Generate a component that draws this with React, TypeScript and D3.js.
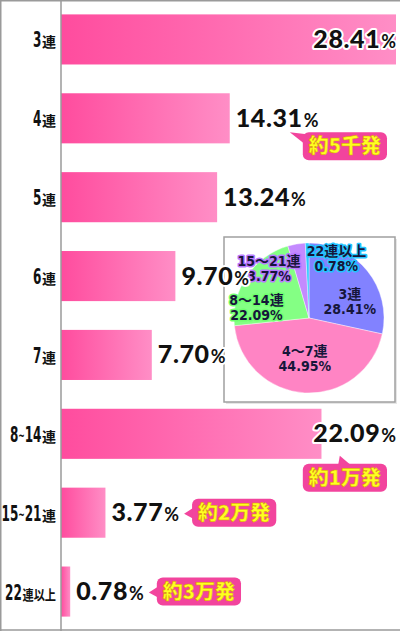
import React, { useEffect, useRef } from "react";
import * as d3 from "d3";

// ---- data ----
const categories = ["3連", "4連", "5連", "6連", "7連", "8~14連", "15~21連", "22連以上"];
const categoryMain = ["3", "4", "5", "6", "7", "8~14", "15~21", "22"];
const categorySuffix = ["連", "連", "連", "連", "連", "連", "連", "連以上"];
const percentages = [28.41, 14.31, 13.24, 9.7, 7.7, 22.09, 3.77, 0.78];
const percentLabels = ["28.41", "14.31", "13.24", "9.70", "7.70", "22.09", "3.77", "0.78"];

const badgeCategories = ["4連", "8~14連", "15~21連", "22連以上"];
const badgeTexts = ["約5千発", "約1万発", "約2万発", "約3万発"];

const pieNames = ["3連", "4〜7連", "8〜14連", "15〜21連", "22連以上"];
const pieValues = [28.41, 44.95, 22.09, 3.77, 0.78];
const pieValueLabels = ["28.41%", "44.95%", "22.09%", "3.77%", "0.78%"];

// ---- styles / layout ----
const W = 400;
const H = 631;
const pieColors = ["#8282ff", "#ff84c4", "#84ff84", "#c48aff", "#2ec8ff"];
const pieOutline = ["#8282ff", "#ff84c4", "#70ff70", "#b878ff", "#22c4ff"];
const pieLabelRadius = [46, 39, 50, 60, 65];
const pieLabelNudge: [number, number][] = [
  [5, 11],
  [-2, 0],
  [-11, 16],
  [-30, 8],
  [29, 4],
];

const NARROW = "'Liberation Sans Narrow','DejaVu Sans Condensed','Noto Sans CJK JP',sans-serif";
const CJK = "'Noto Sans CJK JP','Noto Sans CJK SC',sans-serif";
const GEO = "Lato,'DejaVu Sans',sans-serif";

export default function App() {
  const ref = useRef<SVGSVGElement>(null);

  useEffect(() => {
    const svg = d3.select(ref.current!);
    svg.selectAll("*").remove();

    const defs = svg.append("defs");
    const grad = defs
      .append("linearGradient")
      .attr("id", "barGrad")
      .attr("x1", 0)
      .attr("x2", 1)
      .attr("y1", 0)
      .attr("y2", 0);
    grad.append("stop").attr("offset", 0).attr("stop-color", "#ff4c9e");
    grad.append("stop").attr("offset", 1).attr("stop-color", "#ff8ec6");

    svg.append("rect").attr("width", W).attr("height", H).attr("fill", "#fff");

    const xs = d3.scaleLinear().domain([0, 28.41]).range([61, 396]);
    const ys = d3
      .scaleBand<string>()
      .domain(categories)
      .range([0, H])
      .paddingInner(0.365)
      .paddingOuter(0.1825);
    const bw = ys.bandwidth();

    // bars
    svg
      .append("g")
      .selectAll("rect")
      .data(categories)
      .join("rect")
      .attr("x", xs(0))
      .attr("y", (d) => ys(d)!)
      .attr("width", (_d, i) => xs(percentages[i]) - xs(0))
      .attr("height", bw)
      .attr("fill", "url(#barGrad)");

    // frame + axis
    const frame = svg.append("g").attr("stroke", "#9a9a9a").attr("fill", "none");
    frame.append("line").attr("x1", 0).attr("x2", W).attr("y1", 0.75).attr("y2", 0.75).attr("stroke-width", 1.5);
    frame.append("line").attr("x1", 0).attr("x2", W).attr("y1", H - 1).attr("y2", H - 1).attr("stroke-width", 1.5);
    frame.append("line").attr("x1", 0.75).attr("x2", 0.75).attr("y1", 0).attr("y2", H).attr("stroke-width", 1.5);
    frame.append("line").attr("x1", xs(0)).attr("x2", xs(0)).attr("y1", 0).attr("y2", H).attr("stroke-width", 1.5);

    // measure a digit of the narrow font to condense it to the reference width
    const probe = svg
      .append("text")
      .attr("font-family", NARROW)
      .attr("font-weight", 700)
      .attr("font-size", 22)
      .text("0");
    const digitW = (probe.node() as SVGTextElement).getComputedTextLength();
    probe.remove();
    const condense = Math.min(1, 8.4 / digitW);

    // category labels
    categories.forEach((cat, i) => {
      const cy = ys(cat)! + bw / 2;
      const suf = categorySuffix[i];
      const sTxt = svg
        .append("text")
        .attr("text-anchor", "end")
        .attr("font-family", CJK)
        .attr("font-weight", 700)
        .attr("font-size", 14)
        .attr("fill", "#111")
        .text(suf);
      const sw0 = (sTxt.node() as SVGTextElement).getComputedTextLength();
      const sScale = suf.length > 1 ? 0.8 : 1;
      sTxt.attr("transform", `translate(56,${cy + 8}) scale(${sScale},1)`);
      const sw = sw0 * sScale;
      const mTxt = svg
        .append("text")
        .attr("transform", `translate(${56 - sw - 0.5},${cy + 8}) scale(${condense},1)`)
        .attr("text-anchor", "end")
        .attr("font-family", NARROW)
        .attr("font-weight", 700)
        .attr("font-size", 22)
        .attr("fill", "#111");
      const parts = categoryMain[i].split("~");
      parts.forEach((p, j) => {
        if (j > 0) mTxt.append("tspan").attr("font-size", 14).attr("dy", -2).text("~");
        mTxt.append("tspan").attr("dy", j > 0 ? 2 : 0).text(p);
      });
    });

    // pie inset (under the value labels)
    const box = { x: 224, y: 237, w: 171, h: 165 };
    svg
      .append("rect")
      .attr("x", box.x + 2)
      .attr("y", box.y + 2)
      .attr("width", box.w)
      .attr("height", box.h)
      .attr("fill", "#e6e6e6");
    svg
      .append("rect")
      .attr("x", box.x)
      .attr("y", box.y)
      .attr("width", box.w)
      .attr("height", box.h)
      .attr("fill", "#fff")
      .attr("stroke", "#a0a0a0")
      .attr("stroke-width", 1.5);

    const pcx = 309;
    const pcy = 318;
    const R = 75;
    const pie = d3
      .pie<number>()
      .sort(null)
      .value((d) => d)
      .startAngle(0)
      .endAngle(Math.PI * 2);
    const arcs = pie(pieValues);
    const arc = d3.arc<d3.PieArcDatum<number>>().innerRadius(0).outerRadius(R);
    const pg = svg.append("g").attr("transform", `translate(${pcx},${pcy})`);
    pg.selectAll("path")
      .data(arcs)
      .join("path")
      .attr("d", arc)
      .attr("fill", (_d, i) => pieColors[i])
      .attr("stroke", "#fff")
      .attr("stroke-width", 0.4);

    arcs.forEach((a, i) => {
      const la = d3.arc<d3.PieArcDatum<number>>().innerRadius(pieLabelRadius[i]).outerRadius(pieLabelRadius[i]);
      const [cx0, cy0] = la.centroid(a);
      const cx = cx0 + pieLabelNudge[i][0];
      const cy = cy0 + pieLabelNudge[i][1];
      [pieNames[i], pieValueLabels[i]].forEach((s, j) => {
        pg.append("text")
          .attr("x", cx)
          .attr("y", cy - 1 + j * 15)
          .attr("text-anchor", "middle")
          .attr("font-family", NARROW)
          .attr("font-weight", 700)
          .attr("font-size", 14)
          .attr("fill", "#16163a")
          .attr("stroke", pieOutline[i])
          .attr("stroke-width", 3)
          .attr("stroke-linejoin", "round")
          .attr("paint-order", "stroke")
          .text(s);
      });
    });

    // value labels
    const labelInfo: { x: number; w: number }[] = [];
    categories.forEach((cat, i) => {
      const cy = ys(cat)! + bw / 2;
      const barEnd = xs(percentages[i]);
      const t = svg
        .append("text")
        .attr("y", cy + 8.5)
        .attr("fill", "#111")
        .attr("stroke", "#fff")
        .attr("stroke-width", 4)
        .attr("stroke-linejoin", "round")
        .attr("paint-order", "stroke")
        .attr("font-family", GEO);
      t.append("tspan")
        .attr("font-weight", 900)
        .attr("font-size", 25)
        .attr("letter-spacing", 0.6)
        .text(percentLabels[i]);
      t.append("tspan").attr("dx", 1).attr("font-weight", 700).attr("font-size", 18).text("%");
      const w = (t.node() as SVGTextElement).getComputedTextLength() + 1;
      let x = barEnd + 6;
      if (x + w > 396) x = 396 - w;
      t.attr("x", x);
      labelInfo.push({ x, w });
    });

    // badges
    badgeCategories.forEach((cat, k) => {
      const i = categories.indexOf(cat);
      const lab = labelInfo[i];
      const top = ys(cat)!;
      const cy = top + bw / 2;
      const barEnd = xs(percentages[i]);
      const g = svg.append("g");
      const tailG = g.append("g");
      const rectG = g.append("g");
      const txt = g
        .append("text")
        .attr("font-family", CJK)
        .attr("font-weight", 900)
        .attr("font-size", 20)
        .attr("fill", "#ffff22")
        .attr("stroke", "#d8a000")
        .attr("stroke-width", 0.5)
        .attr("text-anchor", "middle")
        .text(badgeTexts[k]);
      const tw = (txt.node() as SVGTextElement).getComputedTextLength();
      const bwid = tw + 12;
      const bh = 28;
      let rx: number;
      let ry: number;
      let tail: [number, number][];
      const tip = lab.x + lab.w + 5;
      if (tip + 8 + bwid <= 380) {
        rx = tip + 8;
        ry = cy - bh / 2;
        tail = [
          [tip, cy + 1],
          [rx + 3, cy - 6],
          [rx + 3, cy + 7],
        ];
      } else {
        rx = 387 - bwid;
        if (rx > barEnd + 6) {
          ry = cy + 14;
          tail = [
            [rx - 13, ry],
            [rx + 4, ry + 2],
            [rx + 6, ry + 15],
          ];
        } else {
          ry = top + bw + 5;
          tail = [
            [rx + 37, ry - 8],
            [rx + 35, ry + 3],
            [rx + 50, ry + 3],
          ];
        }
      }
      tailG.append("path").attr("d", d3.line()(tail)! + "Z").attr("fill", "#f2449d");
      rectG
        .append("rect")
        .attr("x", rx)
        .attr("y", ry)
        .attr("width", bwid)
        .attr("height", bh)
        .attr("rx", 6)
        .attr("fill", "#f2449d");
      txt.attr("x", rx + bwid / 2).attr("y", ry + bh / 2 + 7);
    });
  }, []);

  return (
    <svg
      ref={ref}
      width={W}
      height={H}
      style={{ position: "absolute", left: 0, top: 0, display: "block" }}
    />
  );
}
